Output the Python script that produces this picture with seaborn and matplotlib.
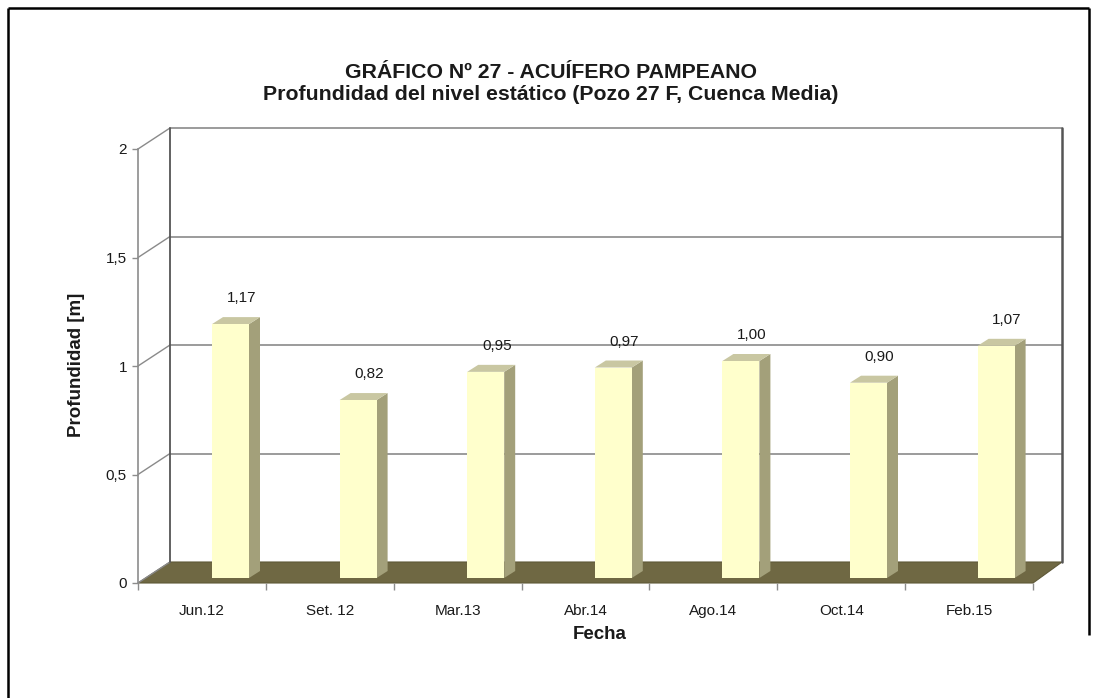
import numpy as np
import pandas as pd
import matplotlib
matplotlib.use("Agg")
import matplotlib.pyplot as plt
import seaborn as sns
from matplotlib.patches import Polygon
from matplotlib import font_manager

# ---------------- data ----------------
categories = ["Jun.12", "Set. 12", "Mar.13", "Abr.14", "Ago.14", "Oct.14", "Feb.15"]
values = [1.17, 0.82, 0.95, 0.97, 1.00, 0.90, 1.07]
value_labels = ["1,17", "0,82", "0,95", "0,97", "1,00", "0,90", "1,07"]
ytick_values = [0, 0.5, 1, 1.5, 2]
ytick_labels = ["0", "0,5", "1", "1,5", "2"]
title1 = "GRÁFICO Nº 27 - ACUÍFERO PAMPEANO"
title2 = "Profundidad del nivel estático (Pozo 27 F, Cuenca Media)"
xlabel = "Fecha"
ylabel = "Profundidad [m]"

# ---------------- layout (pixels) ----------------
W, H = 1101, 698
BACK_L, BACK_R, BACK_Y0 = 170, 1062, 562      # back wall
FRONT_L, FRONT_R, FRONT_Y0 = 138, 1033, 583   # front edge of floor / y-axis
PX_PER_UNIT = 217
BAR_Y0 = 578
BAR_X0, BAR_STEP, BAR_W = 230.5, 127.6, 37
DEPTH_DX, DEPTH_DY = 11, 7

FACE = "#FFFFCC"
SIDE = "#A3A07A"
TOP = "#C9C7A2"
FLOOR = "#6F6843"
GRID = "#8A8A8A"
TXT = "#1A1A1A"

sns.set_theme(style="white")
names = {f.name for f in font_manager.fontManager.ttflist}
plt.rcParams['font.family'] = ['Liberation Sans', 'DejaVu Sans']
narrow = 'Liberation Sans Narrow' if 'Liberation Sans Narrow' in names else 'Liberation Sans'

fig = plt.figure(figsize=(W / 100, H / 100), dpi=100)
fig.patch.set_facecolor("white")


def frac(l, t, r, b):
    return [l / W, 1 - b / H, (r - l) / W, (b - t) / H]


# background axes in pixel coordinates for the 3D frame
bg = fig.add_axes([0, 0, 1, 1])
bg.set_xlim(0, W)
bg.set_ylim(H, 0)
bg.axis("off")

# outer border
bg.plot([8, 8], [8, H], color="black", lw=1.8, solid_capstyle="butt")
bg.plot([8, 1089], [8, 8], color="black", lw=1.8, solid_capstyle="butt")
bg.plot([1089, 1089], [8, 635], color="black", lw=1.8, solid_capstyle="butt")

# back wall grid lines + left wall diagonals
for v in ytick_values:
    yb = BACK_Y0 - PX_PER_UNIT * v
    yf = FRONT_Y0 - PX_PER_UNIT * v
    if v > 0:
        bg.plot([BACK_L, BACK_R], [yb, yb], color=GRID, lw=1.2)
    bg.plot([FRONT_L, BACK_L], [yf, yb], color=GRID, lw=1.0)
top_y = BACK_Y0 - PX_PER_UNIT * max(ytick_values)
bg.plot([BACK_L, BACK_L], [top_y, BACK_Y0], color="#555555", lw=1.3)
bg.plot([BACK_R, BACK_R], [top_y, BACK_Y0], color="#555555", lw=1.8)

# floor
bg.add_patch(Polygon([(BACK_L, BACK_Y0), (BACK_R, BACK_Y0), (FRONT_R, FRONT_Y0), (FRONT_L, FRONT_Y0)],
                     closed=True, facecolor=FLOOR, edgecolor="#5E5837", lw=0.8))

# ---------------- bars (front plane axes) ----------------
ncat = len(categories)
axb = fig.add_axes(frac(BAR_X0 - BAR_STEP / 2, BAR_Y0 - 2 * PX_PER_UNIT,
                        BAR_X0 + BAR_STEP * (ncat - 0.5), BAR_Y0))
df = pd.DataFrame({"Fecha": categories, "Profundidad": values})
sns.barplot(data=df, x="Fecha", y="Profundidad", color=FACE, saturation=1,
            width=BAR_W / BAR_STEP, ax=axb, linewidth=0)
axb.set_xlim(-0.5, ncat - 0.5)
axb.set_ylim(0, 2)
axb.axis("off")
axb.patch.set_alpha(0)

ddx = DEPTH_DX / BAR_STEP
ddy = DEPTH_DY / PX_PER_UNIT
for p, lab in zip(axb.patches, value_labels):
    x, w, h = p.get_x(), p.get_width(), p.get_height()
    p.set_clip_on(False)
    p.set_zorder(3)
    side = Polygon([(x + w, 0), (x + w + ddx, ddy), (x + w + ddx, h + ddy), (x + w, h)],
                   closed=True, facecolor=SIDE, edgecolor="none", zorder=2, clip_on=False)
    top = Polygon([(x, h), (x + w, h), (x + w + ddx, h + ddy), (x + ddx, h + ddy)],
                  closed=True, facecolor=TOP, edgecolor="none", zorder=2, clip_on=False)
    axb.add_patch(side)
    axb.add_patch(top)
    axb.text(x + w / 2 + ddx, h + 26 / PX_PER_UNIT, lab, ha="center", va="center",
             fontsize=11, color=TXT, clip_on=False)

# ---------------- front axes: ticks and labels ----------------
axf = fig.add_axes(frac(FRONT_L, FRONT_Y0 - 2 * PX_PER_UNIT, FRONT_R, FRONT_Y0))
axf.patch.set_alpha(0)
axf.set_xlim(-0.5, ncat - 0.5)
axf.set_ylim(0, 2)
for s in ["top", "right", "bottom"]:
    axf.spines[s].set_visible(False)
axf.spines["left"].set_color("#8C8C8C")
axf.spines["left"].set_linewidth(1.2)
axf.set_yticks(ytick_values)
axf.set_yticklabels(ytick_labels)
axf.tick_params(axis="y", direction="out", length=4, width=1, color="#8C8C8C",
                pad=4, labelsize=11, labelcolor=TXT, left=True)
axf.set_xticks(range(ncat))
axf.set_xticklabels(categories)
axf.set_xticks(np.arange(-0.5, ncat, 1.0), minor=True)
axf.tick_params(axis="x", which="major", length=0, pad=15, labelsize=11, labelcolor=TXT)
axf.tick_params(axis="x", which="minor", direction="out", length=5, width=1,
                color="#8C8C8C", bottom=True)
axf.set_xlabel(xlabel, fontsize=13.5, fontweight="bold", color=TXT)
axf.xaxis.set_label_coords((600 - FRONT_L) / (FRONT_R - FRONT_L), -(626 - FRONT_Y0) / (2 * PX_PER_UNIT))
axf.set_ylabel(ylabel, fontsize=13.5, fontweight="bold", color=TXT)
axf.yaxis.set_label_coords((85 - FRONT_L) / (FRONT_R - FRONT_L), (FRONT_Y0 - 365) / (2 * PX_PER_UNIT))

# ---------------- titles ----------------
renderer = fig.canvas.get_renderer()
t2 = fig.text(551 / W, 1 - 94 / H, title2, ha="center", va="center", fontsize=14,
              fontweight="bold", family=[narrow, 'DejaVu Sans'], color=TXT)
wpx = t2.get_window_extent(renderer).width
size = 14 * 575 / wpx
t2.set_fontsize(size)
fig.text(551 / W, 1 - 72 / H, title1, ha="center", va="center", fontsize=size,
         fontweight="bold", family=[narrow, 'DejaVu Sans'], color=TXT)

fig.savefig("out.png", dpi=100, facecolor="white")
